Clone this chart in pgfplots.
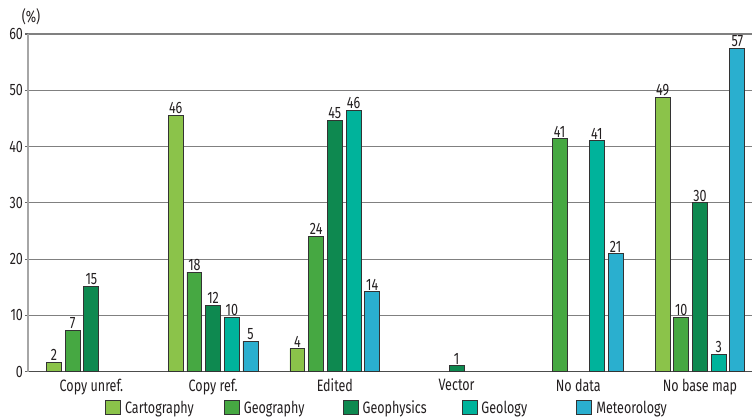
\documentclass[border=0pt]{standalone}
\usepackage{pgfplots}
\pgfplotsset{compat=1.18}
\usepackage{fontspec}
\setmainfont[FakeStretch=0.76]{Fira Sans}
\definecolor{cCart}{HTML}{8BC34A}
\definecolor{cGeog}{HTML}{46A842}
\definecolor{cGeoph}{HTML}{0E8950}
\definecolor{cGeol}{HTML}{00B39B}
\definecolor{cMet}{HTML}{2AAFCF}
\definecolor{txt}{HTML}{231F20}
\newcommand\lbl{\fontsize{16.5}{19}\selectfont}
\begin{document}
\begin{tikzpicture}
\begin{axis}[
  scale only axis, width=724.5pt, height=338pt,
  xmin=-0.517, xmax=5.431, ymin=0, ymax=60,
  ytick={0,10,...,60},
  xtick={0,...,5},
  xticklabels={Copy unref., Copy ref., Edited, Vector, No data, No base map},
  axis x line*=bottom, axis y line*=left,
  x axis line style={-, draw=black!70, line width=1.2pt},
  y axis line style={-, draw=black!35, line width=2pt},
  xtick style={draw=none},
  ytick style={draw=black!60, line width=1.1pt},
  tick align=outside, major tick length=3pt,
  ymajorgrids, grid style={draw=black!50, line width=1.1pt},
  ybar, bar width=0.123,
  clip=false,
  /pgf/number format/assume math mode=true,
  tick label style={font=\lbl, text=txt},
  xticklabel style={yshift=-0.5pt},
  yticklabel style={xshift=1pt},
  nodes near coords,
  nodes near coords style={font=\lbl, text=txt, inner sep=1pt, /pgf/number format/.cd, fixed, precision=0, assume math mode=true},
  legend columns=5,
  legend style={at={(0.1057,-0.1066)}, anchor=west, draw=none, fill=none, inner sep=0pt,
    nodes={inner xsep=4pt, inner ysep=0pt, font=\lbl, text=txt}, column sep=0pt},
  legend image code/.code={\draw[#1, line width=0.9pt] (0pt,-7pt) rectangle (15pt,7pt);},
]
\addplot[fill=cCart, draw=black!80, line width=0.9pt, bar shift=-0.307]
  coordinates {(0,1.7)(1,45.6)(2,4.1)(5,48.7)};
\addplot[fill=cGeog, draw=black!80, line width=0.9pt, bar shift=-0.1535]
  coordinates {(0,7.4)(1,17.7)(2,24.1)(4,41.4)(5,9.7)};
\addplot[fill=cGeoph, draw=black!80, line width=0.9pt, bar shift=0]
  coordinates {(0,15.2)(1,11.8)(2,44.7)(3,1.1)(5,30.0)};
\addplot[fill=cGeol, draw=black!80, line width=0.9pt, bar shift=0.1535]
  coordinates {(1,9.7)(2,46.4)(4,41.0)(5,3.1)};
\addplot[fill=cMet, draw=black!80, line width=0.9pt, bar shift=0.307]
  coordinates {(1,5.4)(2,14.2)(4,21.0)(5,57.4)};
\legend{\makebox[95pt][l]{Cartography},\makebox[95pt][l]{Geography},\makebox[95pt][l]{Geophysics},\makebox[91pt][l]{Geology},Meteorology}
\node[font=\lbl, text=txt, inner sep=0pt] at (rel axis cs:0,1) [xshift=2.5pt, yshift=17pt] {(\%)};
\path (rel axis cs:-0.03936,1.1006) rectangle (rel axis cs:1.0007,-0.1331);
\end{axis}
\end{tikzpicture}
\end{document}
